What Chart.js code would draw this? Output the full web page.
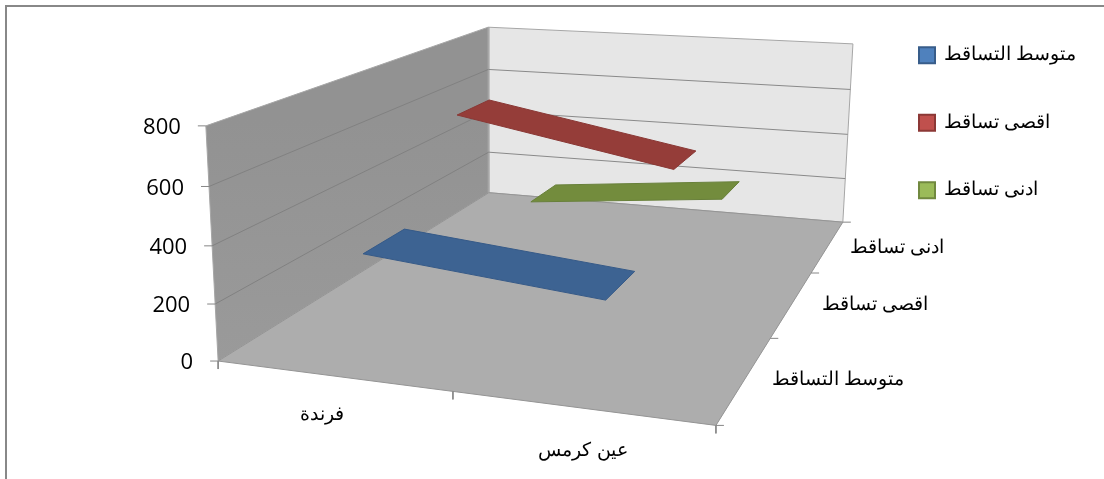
<!DOCTYPE html>
<html>
<head>
<meta charset="utf-8">
<style>
html, body { margin: 0; padding: 0; background: #fff; overflow: hidden; }
#frame { position: absolute; left: 5px; top: 5px; width: 1300px; height: 700px; border: 2px solid #888; }
#dadosGrafico { position: absolute; left: 0; top: 0; }
</style>
<script src="https://cdn.jsdelivr.net/npm/chart.js@4"></script>
</head>
<body>
<div id="frame"></div>
<canvas id="dadosGrafico" width="1104" height="479"></canvas>
<script>
var categories = ["فرندة", "عين كرمس"];
var seriesNames = ["متوسط التساقط", "اقصى تساقط", "ادنى تساقط"];
var avgRain = [345, 272];
var maxRain = [665, 517];
var minRain = [128, 209];
var seriesValues = [avgRain, maxRain, minRain];
var yTicks = [0, 200, 400, 600, 800];
var yMax = 800;

var ribbonColors = ["#3d6392", "#953d39", "#738c3d"];
var ribbonEdges = ["#365a88", "#8a3835", "#68803a"];
var legendFills = ["#4f81bd", "#c0504d", "#9bbb59"];
var legendEdges = ["#385d8a", "#8c3836", "#71893f"];
var ribbonHalfDepth = 0.067;

// where the chart box sits on the page: [cat axis 0..1, depth 0..1, height 0..1, x, y]
var calibration = [
    [0, 0, 0, 218, 360], [1, 0, 0, 715, 425], [1, 1, 0, 843, 222], [0, 1, 0, 489, 193],
    [0, 0, 1, 206, 126], [0, 1, 1, 488, 27], [1, 1, 1, 853, 44],
    [0.5, 0, 0, 453, 393], [1, 1 / 3, 0, 772, 338], [1, 2 / 3, 0, 810, 273]
];

// least squares fit of the perspective matrix
function solve(A, b) {
    var n = b.length;
    for (var i = 0; i < n; i++) {
        var best = i;
        for (var r = i + 1; r < n; r++) if (Math.abs(A[r][i]) > Math.abs(A[best][i])) best = r;
        var t = A[i]; A[i] = A[best]; A[best] = t;
        var s = b[i]; b[i] = b[best]; b[best] = s;
        for (var k = i + 1; k < n; k++) {
            var f = A[k][i] / A[i][i];
            for (var c = i; c < n; c++) A[k][c] -= f * A[i][c];
            b[k] -= f * b[i];
        }
    }
    var out = [];
    for (var i2 = n - 1; i2 >= 0; i2--) {
        var sum = b[i2];
        for (var c2 = i2 + 1; c2 < n; c2++) sum -= A[i2][c2] * out[c2];
        out[i2] = sum / A[i2][i2];
    }
    return out;
}

function fitMatrix() {
    var rows = [], rhs = [];
    calibration.forEach(function (p) {
        var u = p[0], v = p[1], w = p[2], x = p[3], y = p[4];
        rows.push([u, v, w, 1, 0, 0, 0, 0, -x * u, -x * v, -x * w]); rhs.push(x);
        rows.push([0, 0, 0, 0, u, v, w, 1, -y * u, -y * v, -y * w]); rhs.push(y);
    });
    var N = [], B = [];
    for (var i = 0; i < 11; i++) {
        N.push([]);
        B.push(0);
        for (var j = 0; j < 11; j++) {
            var sum = 0;
            for (var r = 0; r < rows.length; r++) sum += rows[r][i] * rows[r][j];
            N[i].push(sum);
        }
        for (var r2 = 0; r2 < rows.length; r2++) B[i] += rows[r2][i] * rhs[r2];
    }
    return solve(N, B);
}
var M = fitMatrix();

function project(u, v, val) {
    var w = val / yMax;
    var d = M[8] * u + M[9] * v + M[10] * w + 1;
    return {
        x: (M[0] * u + M[1] * v + M[2] * w + M[3]) / d,
        y: (M[4] * u + M[5] * v + M[6] * w + M[7]) / d
    };
}
function shift(p, dx, dy) { return { x: p.x + dx, y: p.y + dy }; }
var gap = { x: NaN, y: NaN };

var ctx = document.getElementById("dadosGrafico").getContext("2d");

var leftWallFill = ctx.createLinearGradient(0, 120, 0, 360);
leftWallFill.addColorStop(0, "#929292");
leftWallFill.addColorStop(1, "#9a9a9a");

function polygon(points, fill, edge, width) {
    return {
        data: points.concat([points[0]]),
        showLine: true, fill: "shape", backgroundColor: fill, borderColor: edge,
        borderWidth: width, pointRadius: 0, tension: 0, clip: false
    };
}
function lines(points, color, width) {
    return {
        data: points, showLine: true, fill: false, borderColor: color,
        borderWidth: width, pointRadius: 0, tension: 0, spanGaps: false, clip: false
    };
}

var datasets = [];
datasets.push(polygon([project(0, 0, 0), project(0, 1, 0), project(0, 1, yMax), project(0, 0, yMax)], leftWallFill, "#a6a6a6", 1));
datasets.push(polygon([project(0, 1, 0), project(1, 1, 0), project(1, 1, yMax), project(0, 1, yMax)], "#e6e6e6", "#a6a6a6", 1));
datasets.push(polygon([project(0, 0, 0), project(1, 0, 0), project(1, 1, 0), project(0, 1, 0)], "#adadad", "#949494", 1));

// gridlines on both walls
var leftGrid = [], backGrid = [];
yTicks.forEach(function (t) {
    if (t === 0 || t === yMax) return;
    leftGrid.push(project(0, 0, t), project(0, 1, t), gap);
    backGrid.push(project(0, 1, t), project(1, 1, t), gap);
});
datasets.push(lines(leftGrid, "#818181", 1));
datasets.push(lines(backGrid, "#8a8a8a", 1));

// tick marks
var tickMarks = [];
yTicks.forEach(function (t) {
    var p = project(0, 0, t);
    tickMarks.push(p, shift(p, -8, 0), gap);
});
for (var c = 0; c <= categories.length; c++) {
    var pc = project(c / categories.length, 0, 0);
    tickMarks.push(pc, shift(pc, 0, 8), gap);
}
for (var s = 0; s <= seriesNames.length; s++) {
    var ps = project(1, s / seriesNames.length, 0);
    tickMarks.push(ps, shift(ps, 8, 0), gap);
}
datasets.push(lines(tickMarks, "#868686", 1));

// ribbons, back row first
for (var si = seriesNames.length - 1; si >= 0; si--) {
    var depth = (si + 0.5) / seriesNames.length;
    var vals = seriesValues[si];
    var u0 = 0.5 / categories.length, u1 = 1.5 / categories.length;
    datasets.push(polygon([
        project(u0, depth - ribbonHalfDepth, vals[0]),
        project(u1, depth - ribbonHalfDepth, vals[1]),
        project(u1, depth + ribbonHalfDepth, vals[1]),
        project(u0, depth + ribbonHalfDepth, vals[0])
    ], ribbonColors[si], ribbonEdges[si], 1));
}
datasets.forEach(function (d, i) { d.order = -i; });

var categoryTextPos = [[322, 415], [583, 451]];
var depthTextPos = [[838, 380], [875, 305], [897, 248]];

var textPlugin = {
    id: "axisTexts",
    afterLayout: function (chart) {
        chart.legend.left = 870;
        chart.legend.top = -3;
        chart.legend.right = 1104;
        chart.legend.bottom = 479;
    },
    afterDraw: function (chart) {
        var g = chart.ctx;
        g.save();
        g.fillStyle = "#000";
        g.textBaseline = "middle";
        g.textAlign = "right";
        g.font = "22px 'Open Sans'";
        yTicks.forEach(function (t) {
            var p = project(0, 0, t);
            g.fillText(String(t), p.x - 25, p.y + 2);
        });
        g.textAlign = "center";
        g.font = "18.5px 'Liberation Sans'";
        categories.forEach(function (name, i) {
            g.fillText(name, categoryTextPos[i][0], categoryTextPos[i][1]);
        });
        seriesNames.forEach(function (name, i) {
            g.fillText(name, depthTextPos[i][0], depthTextPos[i][1]);
        });
        g.restore();
    }
};

var grafico = new Chart(ctx, {
    type: "scatter",
    data: { datasets: datasets },
    options: {
        responsive: false,
        animation: false,
        layout: { padding: 0 },
        scales: {
            x: { type: "linear", min: 0, max: 1104, display: false },
            y: { type: "linear", min: 0, max: 479, reverse: true, display: false }
        },
        plugins: {
            tooltip: { enabled: false },
            legend: {
                position: "chartArea",
                align: "start",
                labels: {
                    boxWidth: 16,
                    boxHeight: 16,
                    padding: 49,
                    color: "#000",
                    font: { family: "'Liberation Sans'", size: 18.5 },
                    generateLabels: function () {
                        return seriesNames.map(function (name, i) {
                            return { text: name, fillStyle: legendFills[i], strokeStyle: legendEdges[i], lineWidth: 2, datasetIndex: i };
                        });
                    }
                }
            }
        }
    },
    plugins: [textPlugin]
});
</script>
</body>
</html>
